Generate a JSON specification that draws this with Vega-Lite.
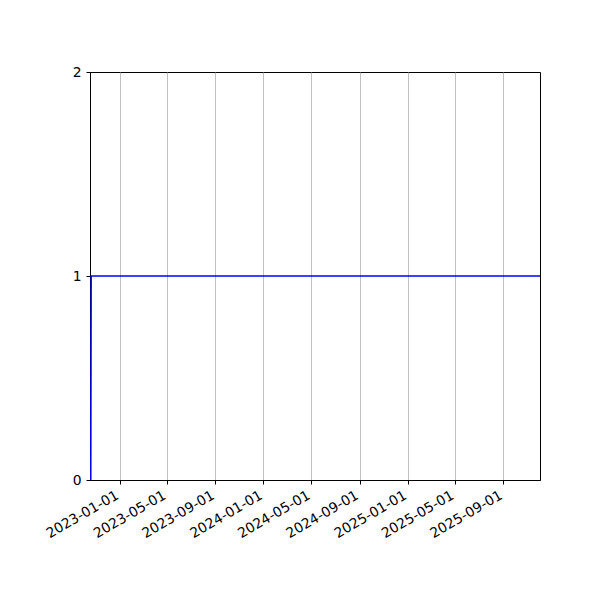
{
  "$schema": "https://vega.github.io/schema/vega-lite/v6.json",
  "autosize": "none",
  "padding": {"left": 90, "top": 72, "right": 60, "bottom": 120},
  "width": 450,
  "height": 408,
  "background": "white",
  "data": {
    "values": [
      {"date": "2022-10-20", "value": 0},
      {"date": "2022-10-21", "value": 1},
      {"date": "2025-12-03", "value": 1}
    ]
  },
  "mark": {"type": "line", "color": "#0000ff", "strokeWidth": 1.5, "clip": true},
  "encoding": {
    "x": {
      "field": "date",
      "type": "temporal",
      "scale": {
        "type": "utc",
        "nice": false,
        "domain": [
          {"year": 2022, "month": 10, "date": 18, "utc": true},
          {"year": 2025, "month": 12, "date": 3, "utc": true}
        ]
      },
      "axis": {
        "title": null,
        "values": [
          {"year": 2023, "month": 1, "date": 1, "utc": true},
          {"year": 2023, "month": 5, "date": 1, "utc": true},
          {"year": 2023, "month": 9, "date": 1, "utc": true},
          {"year": 2024, "month": 1, "date": 1, "utc": true},
          {"year": 2024, "month": 5, "date": 1, "utc": true},
          {"year": 2024, "month": 9, "date": 1, "utc": true},
          {"year": 2025, "month": 1, "date": 1, "utc": true},
          {"year": 2025, "month": 5, "date": 1, "utc": true},
          {"year": 2025, "month": 9, "date": 1, "utc": true}
        ],
        "format": "%Y-%m-%d",
        "labelAngle": -30,
        "labelAlign": "right",
        "labelBaseline": "top",
        "labelPadding": 4,
        "labelOffset": -6,
        "grid": true,
        "gridColor": "#b0b0b0",
        "gridWidth": 0.8,
        "labelOverlap": false,
        "labelFlush": false
      }
    },
    "y": {
      "field": "value",
      "type": "quantitative",
      "scale": {"domain": [0, 2], "nice": false, "zero": false},
      "axis": {
        "title": null,
        "values": [0, 1, 2],
        "labelExpr": "format(datum.value, 'd')",
        "grid": false,
        "labelOverlap": false,
        "labelFlush": false,
        "labelPadding": 5
      }
    }
  },
  "config": {
    "view": {"stroke": "black", "strokeWidth": 1},
    "axis": {
      "labelFont": "DejaVu Sans",
      "labelFontSize": 13.9,
      "labelColor": "black",
      "domainColor": "black",
      "domainWidth": 1,
      "tickColor": "black",
      "tickSize": 4,
      "tickWidth": 1
    }
  }
}
